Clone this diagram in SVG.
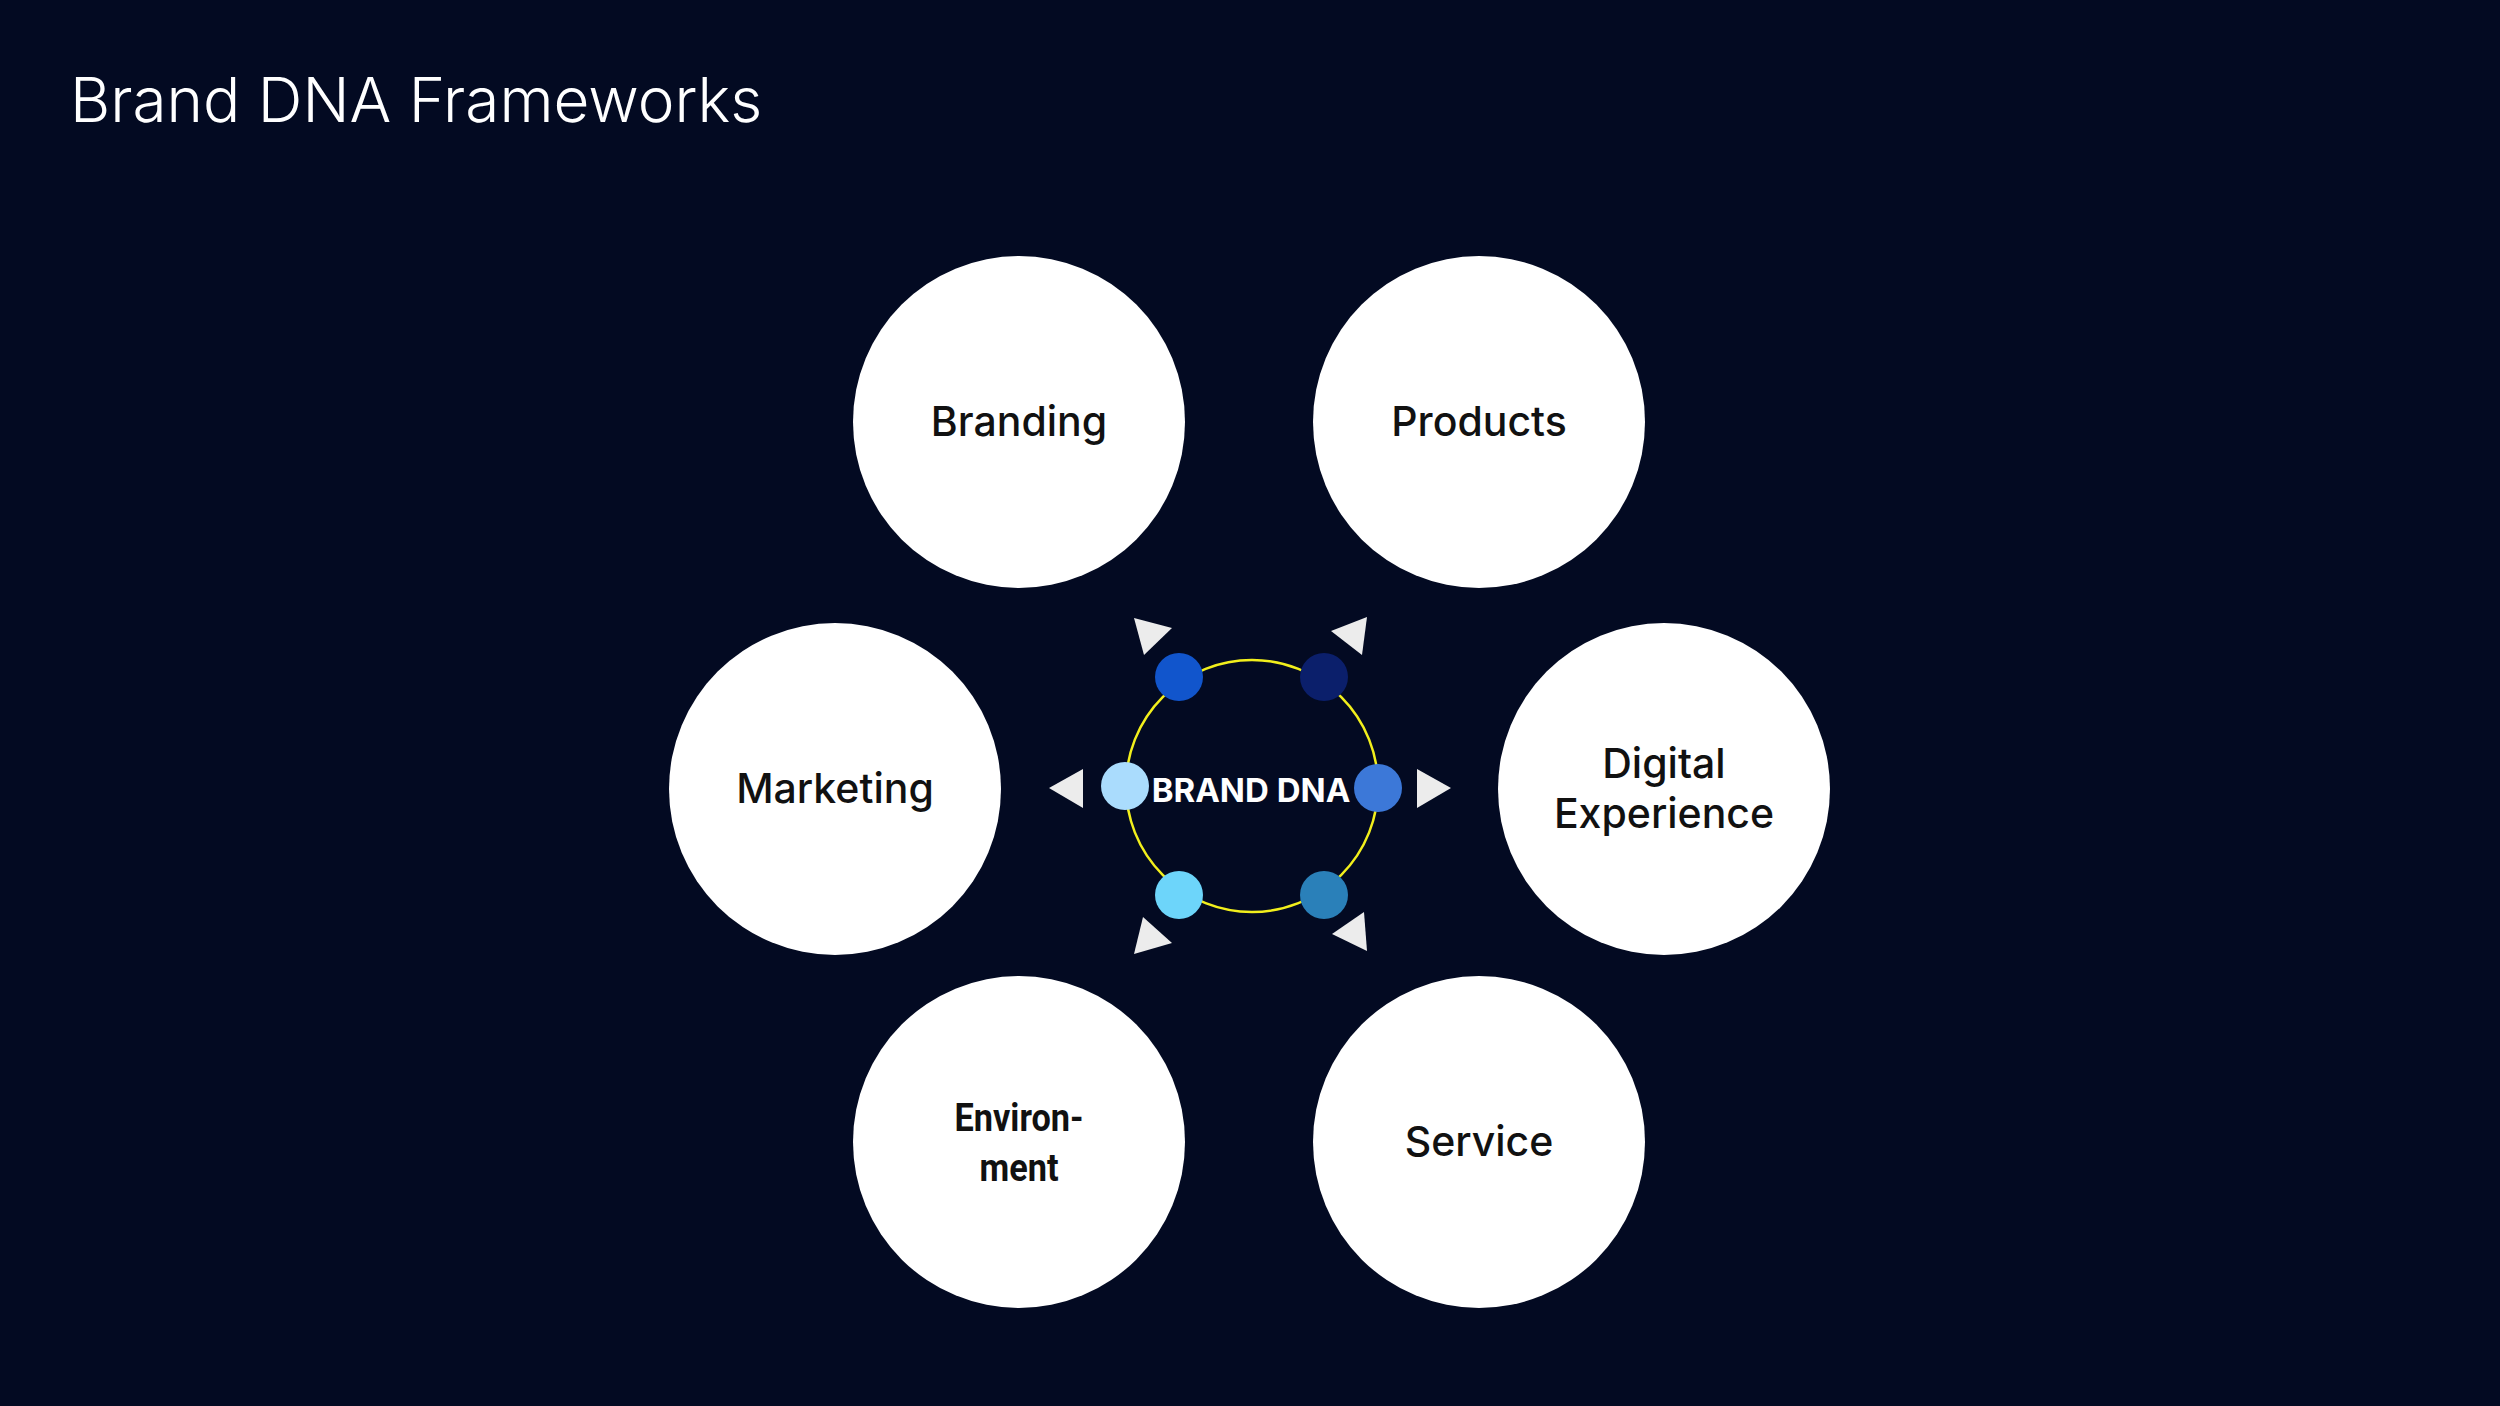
<svg xmlns="http://www.w3.org/2000/svg" width="2500" height="1406" viewBox="0 0 2500 1406">
<style>
.bg{fill:#030a22}
.node{fill:#ffffff}
.lbl{font-family:Inter,"Noto Sans","Liberation Sans",sans-serif;font-size:41px;font-weight:500;fill:#111111;text-anchor:middle}
.cond{font-family:Roboto,"Liberation Sans",sans-serif;font-size:39px;font-weight:700;fill:#111111;text-anchor:middle}
.title{font-family:Inter,"Noto Sans","Liberation Sans",sans-serif;font-size:62px;font-weight:300;fill:#ffffff}
.ring{fill:none;stroke:#f2ef1c;stroke-width:2.5}
.arrow{fill:#ececec}
.core{font-family:Inter,"Noto Sans","Liberation Sans",sans-serif;font-size:33px;font-weight:700;fill:#ffffff;text-anchor:middle}
</style>
<rect class="bg" x="0" y="0" width="2500" height="1406"/>
<text class="title" x="70" y="122">Brand DNA Frameworks</text>

<g id="connectors">
<polygon class="arrow" points="1134,618 1172,628 1144,655"/>
<polygon class="arrow" points="1367,617 1331,631 1362,655"/>
<polygon class="arrow" points="1083,769 1049,788 1083,808"/>
<polygon class="arrow" points="1417,769 1451,788 1417,808"/>
<polygon class="arrow" points="1143,917 1134,954 1172,943"/>
<polygon class="arrow" points="1364,912 1332,934 1367,951"/>
</g>

<g id="branding">
<circle class="node" cx="1019" cy="422" r="166"/>
<text class="lbl" x="1019" y="436">Branding</text>
</g>
<g id="products">
<circle class="node" cx="1479" cy="422" r="166"/>
<text class="lbl" x="1479" y="436">Products</text>
</g>
<g id="marketing">
<circle class="node" cx="835" cy="789" r="166"/>
<text class="lbl" x="835" y="803">Marketing</text>
</g>
<g id="digital-experience">
<circle class="node" cx="1664" cy="789" r="166"/>
<text class="lbl" x="1664" y="778">Digital</text>
<text class="lbl" x="1664" y="828">Experience</text>
</g>
<g id="environment">
<circle class="node" cx="1019" cy="1142" r="166"/>
<text class="cond" x="1019" y="1131" textLength="129" lengthAdjust="spacingAndGlyphs">Environ-</text>
<text class="cond" x="1019" y="1181" textLength="79" lengthAdjust="spacingAndGlyphs">ment</text>
</g>
<g id="service">
<circle class="node" cx="1479" cy="1142" r="166"/>
<text class="lbl" x="1479" y="1156">Service</text>
</g>

<g id="brand-dna">
<circle class="ring" cx="1252" cy="786" r="126"/>
<circle cx="1179" cy="677" r="24" fill="#1155cc"/>
<circle cx="1324" cy="677" r="24" fill="#0b1f6b"/>
<circle cx="1125" cy="786" r="24" fill="#aadcfd"/>
<circle cx="1378" cy="788" r="24" fill="#3c78d8"/>
<circle cx="1179" cy="895" r="24" fill="#6dd5fa"/>
<circle cx="1324" cy="895" r="24" fill="#2a80b9"/>
<text class="core" x="1251" y="802">BRAND DNA</text>
</g>
</svg>
